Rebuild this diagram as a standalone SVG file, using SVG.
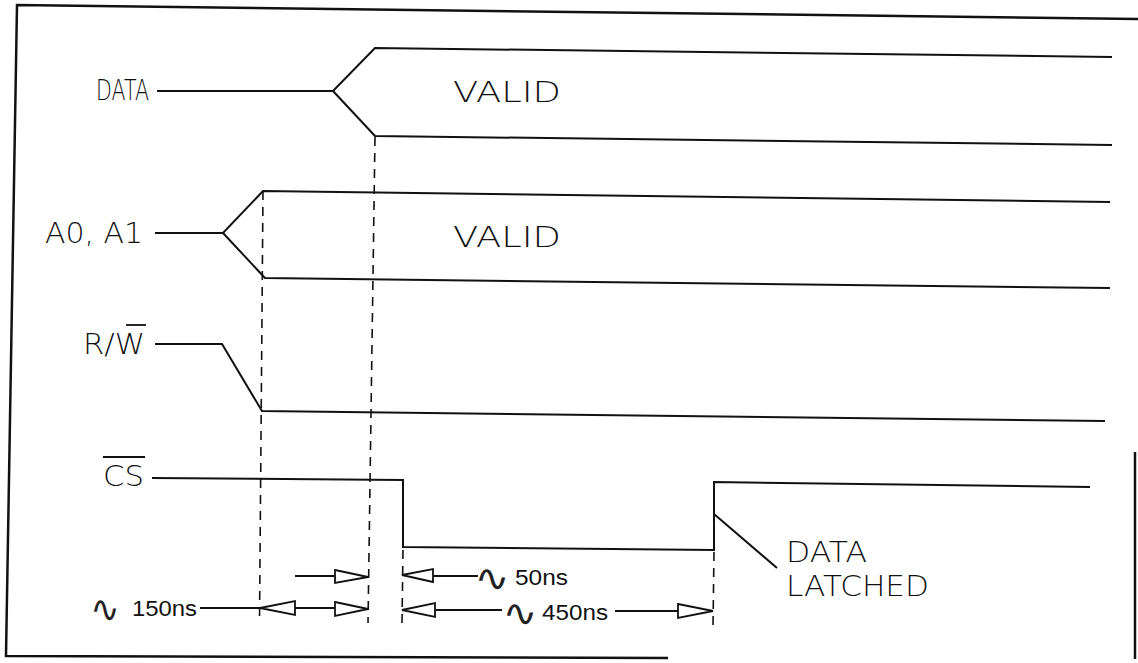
<svg xmlns="http://www.w3.org/2000/svg" width="1138" height="663" viewBox="0 0 1138 663">
<style>
.bg{fill:#fff}
.frame{fill:none;stroke:#111;stroke-width:2.5}
.sig{fill:none;stroke:#111;stroke-width:2;stroke-linejoin:miter}
.dash{fill:none;stroke:#111;stroke-width:1.6;stroke-dasharray:9 7}
.dim{fill:none;stroke:#111;stroke-width:1.8}
.tri{fill:#fff;stroke:#111;stroke-width:1.8;stroke-linejoin:miter}
.lbl{font-family:"DejaVu Sans","Liberation Sans",sans-serif;font-weight:200;font-size:28px;fill:#111}
.num{font-family:"Liberation Sans",Arial,sans-serif;font-size:22px;fill:#111}
.wave{font-family:"DejaVu Sans",sans-serif;font-size:22px;fill:#222;text-anchor:middle}
.bar{stroke:#111;stroke-width:1.8}
</style>
<rect class="bg" x="0" y="0" width="1138" height="663"/>
<g id="frame">
<polyline class="frame" points="1138,19 17,5 6,656 668,658"/>
<line class="frame" x1="1135" y1="452" x2="1135" y2="659"/>
</g>
<g id="connectors">
<line class="dash" x1="263" y1="191" x2="259.5" y2="621"/>
<line class="dash" x1="375" y1="137" x2="368" y2="623"/>
<line class="dash" x1="403" y1="550" x2="402" y2="623"/>
<line class="dash" x1="714" y1="552" x2="713" y2="626"/>
<line class="sig" x1="714" y1="514" x2="777" y2="568"/>
<line class="dim" x1="295" y1="576" x2="335" y2="576"/>
<polygon class="tri" points="335,570 368,577 335,583"/>
<polygon class="tri" points="402,575 433,569 433,582"/>
<line class="dim" x1="433" y1="576" x2="478" y2="576"/>
<line class="dim" x1="200" y1="608" x2="260" y2="608"/>
<polygon class="tri" points="260,608 295,601 295,615"/>
<line class="dim" x1="295" y1="608" x2="335" y2="608"/>
<polygon class="tri" points="335,602 368,609 335,616"/>
<polygon class="tri" points="402,610 435,603 435,617"/>
<line class="dim" x1="435" y1="610" x2="502" y2="610"/>
<line class="dim" x1="615" y1="611" x2="678" y2="611"/>
<polygon class="tri" points="678,604 713,611 678,618"/>
</g>
<g id="data">
<text class="lbl" x="96" y="100" textLength="53" lengthAdjust="spacingAndGlyphs">DATA</text>
<polyline class="sig" points="157,91 333,91 375,48 1112,57"/>
<polyline class="sig" points="333,91 375,136 1112,145"/>
<text class="lbl" x="453" y="102" textLength="108" lengthAdjust="spacingAndGlyphs">VALID</text>
</g>
<g id="addr">
<text class="lbl" x="45" y="243" textLength="98" lengthAdjust="spacingAndGlyphs">A0, A1</text>
<polyline class="sig" points="155,233 223,233 263,191 1110,202"/>
<polyline class="sig" points="223,233 265,278 1110,288"/>
<text class="lbl" x="453" y="247" textLength="108" lengthAdjust="spacingAndGlyphs">VALID</text>
</g>
<g id="rw">
<text class="lbl" x="83" y="354" textLength="62" lengthAdjust="spacingAndGlyphs">R/W</text>
<line class="bar" x1="126" y1="325" x2="146" y2="325"/>
<polyline class="sig" points="155,344 222,344 262,411 1105,421"/>
</g>
<g id="cs">
<text class="lbl" x="103" y="486" textLength="41" lengthAdjust="spacingAndGlyphs">CS</text>
<line class="bar" x1="103" y1="457" x2="145" y2="457"/>
<polyline class="sig" points="152,478 403,480 403,547 714,550 714,482 1090,487"/>
</g>
<g id="latched">
<text class="lbl" x="786" y="562" textLength="81" lengthAdjust="spacingAndGlyphs">DATA</text>
<text class="lbl" x="786" y="596" textLength="143" lengthAdjust="spacingAndGlyphs">LATCHED</text>
</g>
<g id="t150">
<text class="wave" transform="translate(105,608) scale(1.6,1.7)" x="0" y="8">∿</text>
<text class="num" x="132" y="616" textLength="65" lengthAdjust="spacingAndGlyphs">150ns</text>
</g>
<g id="t50">
<text class="wave" transform="translate(492,577) scale(1.9,1.7)" x="0" y="8">∿</text>
<text class="num" x="515" y="585" textLength="53" lengthAdjust="spacingAndGlyphs">50ns</text>
</g>
<g id="t450">
<text class="wave" transform="translate(520,612) scale(1.9,1.7)" x="0" y="8">∿</text>
<text class="num" x="542" y="620" textLength="66" lengthAdjust="spacingAndGlyphs">450ns</text>
</g>
</svg>
